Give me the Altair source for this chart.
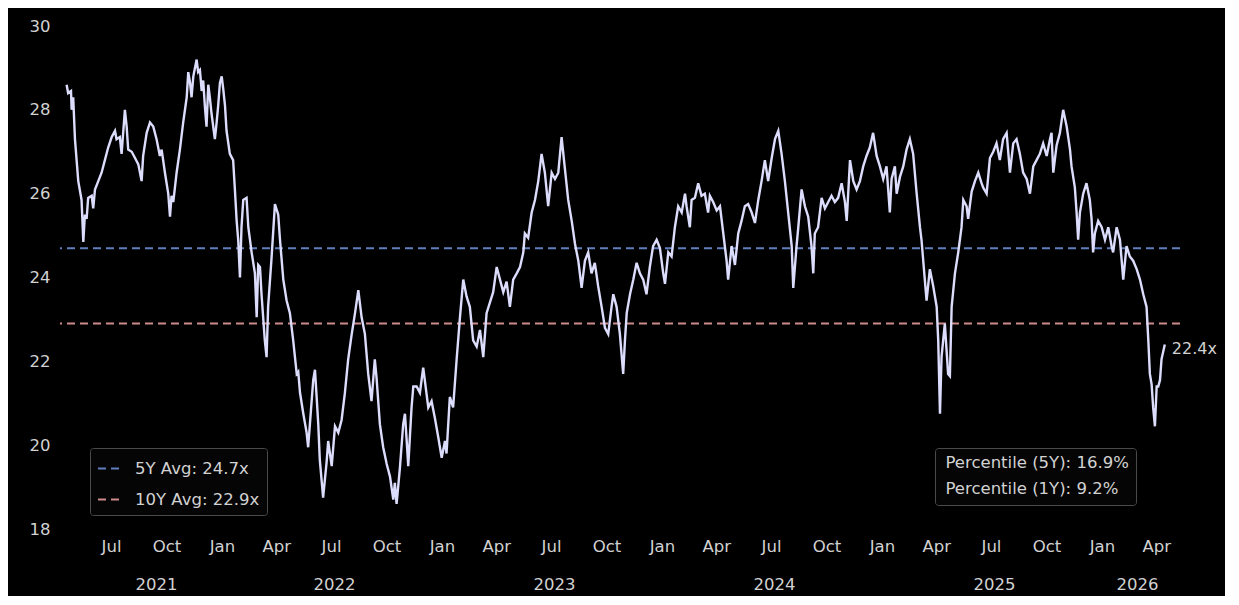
import altair as alt
import pandas as pd

# ---- data (time as decimal year, value = P/E multiple) ----
T = [
    2021.294, 2021.301, 2021.314, 2021.317, 2021.324, 2021.332, 2021.347, 2021.362, 2021.370, 2021.377,
    2021.385, 2021.392, 2021.408, 2021.415, 2021.423, 2021.438, 2021.453, 2021.468, 2021.483, 2021.499,
    2021.514, 2021.521, 2021.536, 2021.544, 2021.559, 2021.567, 2021.574, 2021.590, 2021.605, 2021.620,
    2021.635, 2021.642, 2021.658, 2021.673, 2021.688, 2021.703, 2021.718, 2021.726, 2021.741, 2021.756,
    2021.764, 2021.771, 2021.779, 2021.794, 2021.809, 2021.824, 2021.840, 2021.847, 2021.855, 2021.862,
    2021.870, 2021.885, 2021.892, 2021.900, 2021.908, 2021.915, 2021.923, 2021.930, 2021.938, 2021.945,
    2021.953, 2021.968, 2021.976, 2021.983, 2021.991, 2021.999, 2022.006, 2022.014, 2022.021, 2022.036,
    2022.051, 2022.059, 2022.067, 2022.074, 2022.082, 2022.089, 2022.097, 2022.112, 2022.120, 2022.135,
    2022.150, 2022.158, 2022.165, 2022.173, 2022.180, 2022.195, 2022.203, 2022.210, 2022.226, 2022.241,
    2022.256, 2022.264, 2022.279, 2022.294, 2022.309, 2022.324, 2022.332, 2022.340, 2022.347, 2022.355,
    2022.370, 2022.385, 2022.392, 2022.400, 2022.415, 2022.423, 2022.430, 2022.438, 2022.445, 2022.460,
    2022.476, 2022.483, 2022.499, 2022.514, 2022.529, 2022.544, 2022.559, 2022.574, 2022.590, 2022.605,
    2022.620, 2022.635, 2022.650, 2022.665, 2022.680, 2022.695, 2022.703, 2022.718, 2022.733, 2022.749,
    2022.764, 2022.779, 2022.786, 2022.794, 2022.809, 2022.824, 2022.832, 2022.840, 2022.847, 2022.862,
    2022.870, 2022.885, 2022.900, 2022.915, 2022.938, 2022.953, 2022.968, 2022.983, 2022.999, 2023.014,
    2023.021, 2023.036, 2023.051, 2023.067, 2023.082, 2023.097, 2023.112, 2023.127, 2023.142, 2023.158,
    2023.173, 2023.188, 2023.203, 2023.218, 2023.233, 2023.249, 2023.264, 2023.279, 2023.294, 2023.309,
    2023.324, 2023.340, 2023.355, 2023.370, 2023.377, 2023.392, 2023.408, 2023.423, 2023.438, 2023.453,
    2023.468, 2023.483, 2023.499, 2023.514, 2023.529, 2023.544, 2023.559, 2023.574, 2023.590, 2023.605,
    2023.620, 2023.635, 2023.650, 2023.665, 2023.680, 2023.695, 2023.710, 2023.726, 2023.741, 2023.756,
    2023.771, 2023.779, 2023.794, 2023.809, 2023.824, 2023.832, 2023.840, 2023.855, 2023.870, 2023.885,
    2023.900, 2023.915, 2023.930, 2023.945, 2023.960, 2023.976, 2023.991, 2024.006, 2024.014, 2024.029,
    2024.044, 2024.059, 2024.074, 2024.090, 2024.105, 2024.112, 2024.127, 2024.135, 2024.150, 2024.165,
    2024.180, 2024.195, 2024.210, 2024.218, 2024.233, 2024.249, 2024.264, 2024.279, 2024.294, 2024.301,
    2024.317, 2024.332, 2024.347, 2024.362, 2024.377, 2024.392, 2024.408, 2024.423, 2024.438, 2024.453,
    2024.468, 2024.483, 2024.499, 2024.514, 2024.529, 2024.544, 2024.559, 2024.574, 2024.590, 2024.597,
    2024.612, 2024.620, 2024.635, 2024.650, 2024.665, 2024.680, 2024.688, 2024.695, 2024.710, 2024.726,
    2024.741, 2024.756, 2024.771, 2024.786, 2024.801, 2024.817, 2024.832, 2024.840, 2024.855, 2024.870,
    2024.885, 2024.900, 2024.915, 2024.930, 2024.945, 2024.960, 2024.976, 2024.991, 2025.006, 2025.021,
    2025.036, 2025.044, 2025.059, 2025.067, 2025.082, 2025.097, 2025.112, 2025.127, 2025.142, 2025.158,
    2025.173, 2025.180, 2025.195, 2025.203, 2025.218, 2025.233, 2025.249, 2025.256, 2025.264, 2025.271,
    2025.286, 2025.301, 2025.309, 2025.317, 2025.332, 2025.347, 2025.362, 2025.370, 2025.385, 2025.392,
    2025.408, 2025.423, 2025.438, 2025.453, 2025.460, 2025.476, 2025.491, 2025.506, 2025.521, 2025.536,
    2025.551, 2025.567, 2025.582, 2025.597, 2025.612, 2025.627, 2025.642, 2025.658, 2025.673, 2025.688,
    2025.703, 2025.718, 2025.733, 2025.749, 2025.764, 2025.771, 2025.779, 2025.794, 2025.809, 2025.824,
    2025.840, 2025.855, 2025.862, 2025.877, 2025.885, 2025.892, 2025.900, 2025.915, 2025.930, 2025.945,
    2025.953, 2025.960, 2025.968, 2025.983, 2025.999, 2026.014, 2026.029, 2026.044, 2026.051, 2026.067,
    2026.082, 2026.097, 2026.112, 2026.127, 2026.142, 2026.158, 2026.173, 2026.188, 2026.203, 2026.211,
    2026.218, 2026.226, 2026.233, 2026.241, 2026.249, 2026.256, 2026.264, 2026.271, 2026.286,
]
V = [
    28.6, 28.4, 28.45, 28.0, 28.3, 27.3, 26.3, 25.85, 24.85, 25.5,
    25.4, 25.9, 25.95, 25.65, 26.1, 26.3, 26.5, 26.8, 27.1, 27.35,
    27.5, 27.3, 27.35, 26.95, 28.0, 27.6, 27.05, 27.0, 26.85, 26.7,
    26.3, 26.9, 27.45, 27.7, 27.6, 27.3, 26.9, 27.05, 26.5, 26.0,
    25.45, 25.95, 25.8, 26.5, 27.05, 27.7, 28.3, 28.9, 28.65, 28.3,
    28.8, 29.2, 28.9, 28.95, 28.45, 28.7, 28.05, 27.6, 28.6, 28.3,
    27.9, 27.3, 27.7, 28.1, 28.65, 28.8, 28.5, 28.1, 27.5, 26.95,
    26.8, 26.1, 25.35, 24.9, 24.0, 25.2, 25.85, 25.9, 25.2, 24.6,
    24.1, 23.05, 24.3, 24.25, 23.6, 22.5, 22.1, 23.3, 24.5, 25.75,
    25.5, 24.9, 23.95, 23.45, 23.15, 22.5, 22.1, 21.7, 21.75, 21.25,
    20.75, 20.3, 19.95, 20.5, 21.55, 21.8, 21.2, 20.5, 19.65, 18.75,
    19.6, 20.1, 19.5, 20.45, 20.3, 20.6, 21.25, 22.05, 22.65, 23.15,
    23.7, 23.05, 22.65, 21.7, 21.05, 22.05, 21.6, 20.5, 19.95, 19.55,
    19.25, 18.7, 19.1, 18.6, 19.45, 20.5, 20.75, 20.1, 19.5, 20.9,
    21.4, 21.4, 21.25, 21.85, 20.9, 21.05, 20.65, 20.2, 19.7, 20.1,
    19.8, 21.15, 20.9, 22.05, 23.05, 23.95, 23.55, 23.3, 22.5, 22.35,
    22.75, 22.1, 23.15, 23.4, 23.65, 24.25, 23.95, 23.65, 23.9, 23.3,
    23.95, 24.1, 24.25, 24.6, 25.05, 24.95, 25.55, 25.85, 26.3, 26.95,
    26.5, 25.7, 26.5, 26.35, 26.5, 27.35, 26.6, 25.85, 25.35, 24.8,
    24.4, 23.75, 24.4, 24.6, 24.1, 24.35, 23.8, 23.3, 22.8, 22.65,
    23.3, 23.6, 23.3, 22.65, 21.7, 22.5, 23.15, 23.6, 23.95, 24.35,
    24.1, 23.95, 23.6, 24.25, 24.75, 24.9, 24.7, 24.1, 23.85, 24.6,
    24.5, 25.2, 25.7, 25.55, 26.0, 25.7, 25.2, 25.85, 25.9, 26.25,
    25.95, 26.0, 25.55, 25.95, 25.8, 25.6, 25.7, 25.05, 24.4, 23.95,
    24.75, 24.3, 25.05, 25.35, 25.7, 25.75, 25.55, 25.3, 25.85, 26.3,
    26.8, 26.3, 26.85, 27.3, 27.5, 26.95, 26.3, 25.55, 24.75, 23.75,
    24.75, 25.2, 26.1, 25.7, 25.45, 24.75, 24.1, 25.05, 25.2, 25.9,
    25.65, 25.8, 25.95, 25.8, 25.9, 26.25, 25.8, 25.35, 26.8, 26.3,
    26.1, 26.3, 26.65, 26.9, 27.1, 27.45, 26.9, 26.65, 26.35, 26.65,
    25.55, 26.35, 26.65, 26.0, 26.4, 26.65, 27.05, 27.3, 26.95, 26.0,
    25.2, 24.9, 23.95, 23.45, 24.2, 23.8, 23.3, 22.5, 20.75, 22.1,
    22.9, 21.7, 21.65, 23.3, 24.1, 24.6, 25.2, 25.85, 25.7, 25.4,
    26.05, 26.3, 26.5, 26.25, 26.15, 26.0, 26.85, 27.0, 27.2, 26.8,
    27.3, 27.45, 26.5, 27.2, 27.3, 26.95, 26.5, 26.35, 26.0, 26.65,
    26.8, 26.95, 27.2, 26.9, 27.3, 27.45, 26.5, 27.15, 27.45, 28.0,
    27.6, 27.05, 26.65, 26.15, 25.55, 24.9, 25.55, 26.0, 26.25, 25.85,
    25.4, 24.6, 25.05, 25.35, 25.2, 24.9, 25.2, 24.75, 24.6, 25.2,
    24.9, 23.95, 24.75, 24.5, 24.4, 24.2, 23.95, 23.6, 23.3, 22.5,
    21.7, 21.45, 20.9, 20.45, 21.4, 21.4, 21.55, 22.05, 22.4,
]
assert len(T) == len(V)

AVG_LABELS = ["5Y Avg: 24.7x", "10Y Avg: 22.9x"]
AVG_VALUES = [24.7, 22.9]
AVG_COLORS = ["#6a8bd0", "#e39a9a"]
PCT_LABELS = ["Percentile (5Y): 16.9%", "Percentile (1Y): 9.2%"]
Y_TICKS = [18, 20, 22, 24, 26, 28, 30]
MONTHS = ["Jan", "Apr", "Jul", "Oct"]
QUARTER_FRAC = [0.0, 0.2466, 0.4959, 0.7479]
YEARS = [2021, 2022, 2023, 2024, 2025, 2026]
YEAR_LABEL_POS = [2021.70, 2022.51, 2023.51, 2024.51, 2025.51, 2026.16]
X_DOMAIN = [2021.264, 2026.355]
Y_DOMAIN = [18, 30]

FONT = "DejaVu Sans"
TXT = "#d2d2d2"
W, H = 1120, 503

month_ticks = [y + q for y in YEARS for q in QUARTER_FRAC if T[0] < y + q < T[-1]]
month_expr = "[" + ",".join("'%s'" % m for m in MONTHS) + "][round((datum.value - floor(datum.value)) * 4)]"

df = pd.DataFrame({"t": T, "v": V})
avg_df = pd.DataFrame({"label": AVG_LABELS, "value": AVG_VALUES})
pct_df = pd.DataFrame({"label": PCT_LABELS})
year_df = pd.DataFrame({"pos": YEAR_LABEL_POS, "year": YEARS})

xscale = alt.Scale(domain=X_DOMAIN, nice=False, zero=False)
yscale = alt.Scale(domain=Y_DOMAIN, nice=False, zero=False)

axis_common = dict(title=None, grid=False, ticks=False, domain=False, labelFont=FONT,
                   labelFontSize=16.5, labelColor=TXT, labelFlush=False, labelOverlap=False)

line = alt.Chart(df).mark_line(color="#dcdcfc", strokeWidth=2.4).encode(
    x=alt.X("t:Q", scale=xscale,
            axis=alt.Axis(values=month_ticks, labelExpr=month_expr, labelPadding=9, orient="bottom", **axis_common)),
    y=alt.Y("v:Q", scale=yscale,
            axis=alt.Axis(values=Y_TICKS, labelPadding=10, **axis_common)),
)

rules = alt.Chart(avg_df).mark_rule(strokeDash=[8, 5], strokeWidth=2, opacity=0.9).encode(
    y=alt.Y("value:Q", scale=yscale),
    color=alt.Color("label:N", scale=alt.Scale(domain=AVG_LABELS, range=AVG_COLORS),
                    legend=alt.Legend(orient="none", legendX=30, legendY=422, title=None,
                                      fillColor="#050505", strokeColor="#4a4a4a", cornerRadius=3,
                                      padding=7, symbolType="stroke", symbolSize=625,
                                      symbolStrokeWidth=2, symbolDash=[8, 5], labelOffset=11,
                                      labelFont=FONT, labelFontSize=16.5, labelColor=TXT,
                                      rowPadding=9, labelLimit=400)),
)

pct = alt.Chart(pct_df).mark_point(opacity=0).encode(
    shape=alt.Shape("label:N", scale=alt.Scale(domain=PCT_LABELS),
                    legend=alt.Legend(orient="none", legendX=875, legendY=422, title=None,
                                      fillColor="#050505", strokeColor="#4a4a4a", cornerRadius=3,
                                      padding=7, symbolSize=0, symbolOpacity=0, symbolStrokeWidth=0,
                                      labelOffset={"expr": "-13"}, labelFont=FONT, labelFontSize=16.5,
                                      labelColor=TXT, rowPadding=9, labelLimit=400)),
)

end_label = alt.Chart(df).transform_joinaggregate(tmax="max(t)").transform_filter(
    "datum.t == datum.tmax"
).transform_calculate(lab="format(datum.v, '.1f') + 'x'").mark_text(
    align="left", baseline="middle", dx=7, dy=4, font=FONT, fontSize=16, color=TXT
).encode(
    x=alt.X("t:Q", scale=xscale, axis=None),
    y=alt.Y("v:Q", scale=yscale),
    text="lab:N",
)

years = alt.Chart(year_df).mark_point(opacity=0).encode(
    x=alt.X("pos:Q", scale=xscale,
            axis=alt.Axis(orient="bottom", values=YEAR_LABEL_POS, labelExpr="'' + floor(datum.value)",
                          labelPadding=47, **axis_common)),
)

chart = alt.layer(rules, line, end_label, pct, years).resolve_axis(x="independent").properties(
    width=W, height=H,
    background="#000000",
    autosize=alt.AutoSizeParams(type="none"),
    padding={"left": 52, "top": 18, "right": 45, "bottom": 67},
).configure_view(stroke=None)

chart.save("out.html", embed_options={"renderer": "svg", "actions": False})
